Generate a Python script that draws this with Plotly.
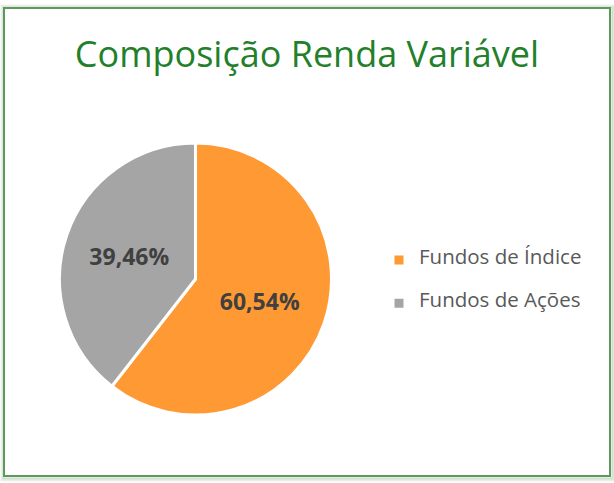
import plotly.graph_objects as go

categories = ["Fundos de Índice", "Fundos de Ações"]
values = [60.54, 39.46]
colors = ["#FF9933", "#A5A5A5"]
title_text = "Composição Renda Variável"

W, H = 614, 483
LEG_FONT = 10.3
# legend entries: padded so rows are spaced like the reference
legend_labels = [f" <br><span style='font-size:20.5px'>{c}</span><br> " for c in categories]

fig = go.Figure()
fig.add_trace(go.Pie(
    labels=legend_labels,
    values=values,
    sort=False,
    direction="clockwise",
    rotation=0,
    marker=dict(colors=colors, line=dict(color="white", width=3)),
    texttemplate="%{percent:.2%}",
    textposition="inside",
    insidetextorientation="horizontal",
    textfont=dict(family="Open Sans", size=23, color="#404040", weight="bold"),
    domain=dict(x=[59.5 / W, 331.5 / W], y=[1 - 415 / H, 1 - 143 / H]),
    customdata=categories,
    hovertemplate="%{customdata}: %{percent:.2%}<extra></extra>",
    showlegend=True,
))

shapes = []
# shadow
for i, op in enumerate([0.14, 0.10, 0.07, 0.04]):
    d = i + 1
    shapes.append(dict(type="rect", xref="paper", yref="paper",
                       x0=(4 - d + 1) / W, x1=(610 + d + 1) / W,
                       y0=1 - (476 + d + 1) / H, y1=1 - (8 - d + 1) / H,
                       line=dict(color=f"rgba(60,110,60,{op})", width=2),
                       fillcolor="rgba(0,0,0,0)", layer="below"))
shapes.append(dict(type="rect", xref="paper", yref="paper",
                   x0=4 / W, x1=610 / W, y0=1 - 476 / H, y1=1 - 8 / H,
                   line=dict(color="#5C9A5C", width=2),
                   fillcolor="white", layer="below"))

fig.update_layout(
    width=W, height=H,
    margin=dict(l=0, r=0, t=0, b=0),
    paper_bgcolor="white",
    plot_bgcolor="white",
    separators=",.",
    title=dict(text=title_text, x=0.5, xanchor="center", y=1 - 54 / H, yanchor="middle",
               font=dict(family="Open Sans", size=36, color="#23802A")),
    legend=dict(x=379 / W, y=1 - 282 / H, xanchor="left", yanchor="middle",
                font=dict(family="Open Sans", size=LEG_FONT, color="#595959"),
                itemwidth=30, tracegroupgap=0),
    shapes=shapes,
)

fig.write_html("out.html", config={"displayModeBar": False},
               post_script="document.body.style.margin='0';document.body.style.overflow='hidden';")
